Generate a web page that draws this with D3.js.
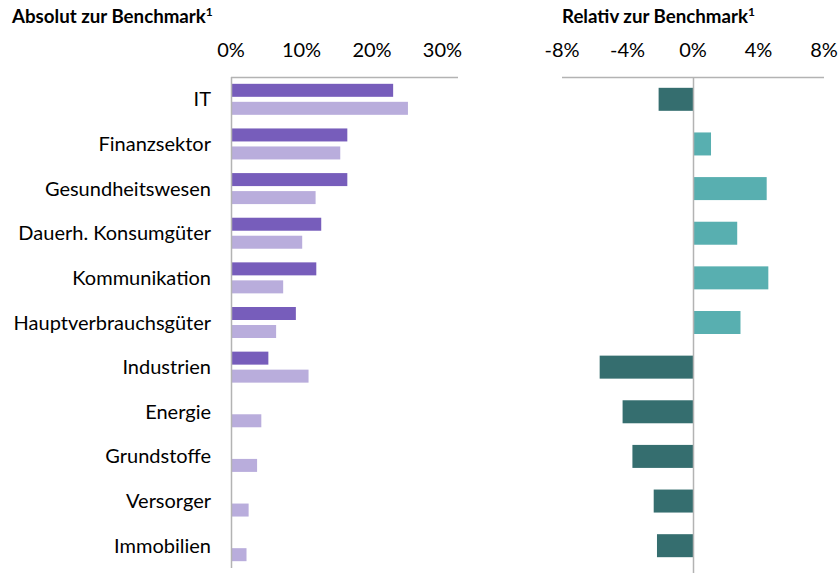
<!DOCTYPE html>
<html>
<head>
<meta charset="utf-8">
<script src="https://cdn.jsdelivr.net/npm/d3@7"></script>
<style>
  body { margin: 0; background: #fff; }
  svg text { font-family: Lato, "Open Sans", sans-serif; fill: #000; }
</style>
</head>
<body>
<svg id="chart" width="840" height="573"></svg>
<script>
// Sectors, top to bottom.
var categories = ["IT", "Finanzsektor", "Gesundheitswesen", "Dauerh. Konsumgüter",
  "Kommunikation", "Hauptverbrauchsgüter", "Industrien", "Energie",
  "Grundstoffe", "Versorger", "Immobilien"];

// Absolute weights (%): portfolio (dark) and benchmark (light).
var portfolio = [23.0, 16.5, 16.5, 12.8, 12.1, 9.2, 5.3, 0, 0, 0, 0];
var benchmark = [25.1, 15.5, 12.0, 10.1, 7.4, 6.4, 11.0, 4.3, 3.7, 2.5, 2.2];

// Relative weight vs benchmark (%).
var relative = [-2.1, 1.1, 4.5, 2.7, 4.6, 2.9, -5.7, -4.3, -3.7, -2.4, -2.2];

var absTicks = [0, 10, 20, 30];
var relTicks = [-8, -4, 0, 4, 8];

var svg = d3.select("#chart");

// Shared vertical band scale for both panels.
var y = d3.scaleBand()
    .domain(categories)
    .range([77, 568]);

// ---------- left panel: absolute ----------
var xAbs = d3.scaleLinear().domain([0, 32.2]).range([231, 458]);

svg.append("text")
    .attr("x", 12).attr("y", 23)
    .style("font-size", "18.7px").style("font-weight", "bold")
    .text("Absolut zur Benchmark")
  .append("tspan")
    .attr("dy", -7).style("font-size", "12px")
    .text("1");

svg.append("g")
  .selectAll("text")
  .data(absTicks)
  .enter().append("text")
    .attr("x", d => xAbs(d))
    .attr("y", 57)
    .attr("text-anchor", "middle")
    .style("font-size", "20px")
    .text(d => d + "%");

svg.append("g")
  .selectAll("text")
  .data(categories)
  .enter().append("text")
    .attr("x", 211)
    .attr("y", d => y(d) + y.bandwidth() / 2 + 7)
    .attr("text-anchor", "end")
    .style("font-size", "20px")
    .text(d => d);

var barH = 13, gap = 5;

svg.append("g")
  .selectAll("rect")
  .data(portfolio)
  .enter().append("rect")
    .attr("x", xAbs(0))
    .attr("y", (d, i) => y(categories[i]) + y.bandwidth() / 2 - gap / 2 - barH)
    .attr("width", d => xAbs(d) - xAbs(0))
    .attr("height", barH)
    .attr("fill", "#775dbb");

svg.append("g")
  .selectAll("rect")
  .data(benchmark)
  .enter().append("rect")
    .attr("x", xAbs(0))
    .attr("y", (d, i) => y(categories[i]) + y.bandwidth() / 2 + gap / 2)
    .attr("width", d => xAbs(d) - xAbs(0))
    .attr("height", barH)
    .attr("fill", "#b9addc");

// axis lines
svg.append("line")
    .attr("x1", xAbs(0)).attr("x2", xAbs(32.2))
    .attr("y1", 77.5).attr("y2", 77.5)
    .attr("stroke", "#b3b3b3").attr("stroke-width", 1.3);
svg.append("line")
    .attr("x1", xAbs(0) + 0.5).attr("x2", xAbs(0) + 0.5)
    .attr("y1", 77).attr("y2", 568)
    .attr("stroke", "#b3b3b3").attr("stroke-width", 1.5);

// ---------- right panel: relative ----------
var xRel = d3.scaleLinear().domain([-8, 8]).range([562, 824]);

svg.append("text")
    .attr("x", 562).attr("y", 23)
    .style("font-size", "18.7px").style("font-weight", "bold")
    .text("Relativ zur Benchmark")
  .append("tspan")
    .attr("dy", -7).style("font-size", "12px")
    .text("1");

svg.append("g")
  .selectAll("text")
  .data(relTicks)
  .enter().append("text")
    .attr("x", d => xRel(d))
    .attr("y", 57)
    .attr("text-anchor", "middle")
    .style("font-size", "20px")
    .text(d => d + "%");

var relH = 23;
svg.append("g")
  .selectAll("rect")
  .data(relative)
  .enter().append("rect")
    .attr("x", d => xRel(Math.min(0, d)))
    .attr("y", (d, i) => y(categories[i]) + y.bandwidth() / 2 - relH / 2)
    .attr("width", d => Math.abs(xRel(d) - xRel(0)))
    .attr("height", relH)
    .attr("fill", d => d < 0 ? "#356e6f" : "#58afb0");

svg.append("line")
    .attr("x1", xRel(-8)).attr("x2", xRel(8))
    .attr("y1", 77.5).attr("y2", 77.5)
    .attr("stroke", "#b3b3b3").attr("stroke-width", 1.3);
svg.append("line")
    .attr("x1", xRel(0) + 0.5).attr("x2", xRel(0) + 0.5)
    .attr("y1", 77).attr("y2", 573)
    .attr("stroke", "#b3b3b3").attr("stroke-width", 1.5);
</script>
</body>
</html>
